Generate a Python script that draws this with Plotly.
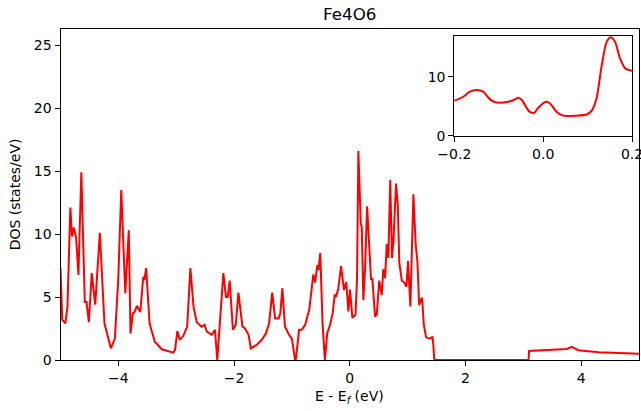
import plotly.graph_objects as go

# Total density of states of Fe4O6 (energies relative to the Fermi level)
energy = [-5.0, -4.97, -4.916, -4.88, -4.83, -4.80, -4.77, -4.73, -4.69, -4.64,
          -4.58, -4.55, -4.51, -4.46, -4.40, -4.32, -4.24, -4.13, -4.06, -4.0,
          -3.95, -3.88, -3.82, -3.79, -3.75, -3.72, -3.68, -3.62, -3.57, -3.55,
          -3.52, -3.46, -3.37, -3.25, -3.05, -3.02, -2.98, -2.94, -2.88, -2.81,
          -2.755, -2.70, -2.645, -2.56, -2.51, -2.47, -2.385, -2.33, -2.29, -2.24,
          -2.185, -2.14, -2.11, -2.075, -2.02, -1.97, -1.925, -1.855, -1.81, -1.75,
          -1.71, -1.61, -1.52, -1.45, -1.395, -1.34, -1.29, -1.23, -1.20, -1.165,
          -1.12, -1.05, -1.0, -0.945, -0.93, -0.876, -0.83, -0.77, -0.70, -0.63,
          -0.60, -0.56, -0.54, -0.51, -0.47, -0.43, -0.39, -0.34, -0.295, -0.26,
          -0.237, -0.197, -0.15, -0.10, -0.06, -0.024, 0.005, 0.045, 0.10, 0.126,
          0.149, 0.19, 0.207, 0.235, 0.265, 0.30, 0.334, 0.368, 0.39, 0.437,
          0.467, 0.51, 0.553, 0.58, 0.61, 0.64, 0.667, 0.70, 0.73, 0.755,
          0.80, 0.83, 0.857, 0.90, 0.944, 0.98, 1.008, 1.048, 1.10, 1.14,
          1.17, 1.20, 1.23, 1.25, 1.28, 1.32, 1.39, 1.43, 1.445, 1.46,
          1.48, 3.07, 3.09, 3.10, 3.5, 3.75, 3.84, 3.95, 4.3, 5.0]
dos = [7.3, 3.2, 2.9, 4.2, 12.1, 9.8, 10.5, 9.7, 6.75, 14.9,
       4.6, 4.6, 3.0, 6.9, 4.4, 10.1, 2.9, 0.93, 1.7, 6.6,
       13.5, 5.3, 10.3, 2.1, 3.7, 3.8, 4.3, 3.8, 6.6, 6.35,
       7.3, 2.9, 1.45, 0.85, 0.58, 0.8, 2.3, 1.6, 1.9, 2.65,
       7.3, 4.2, 3.0, 2.65, 2.8, 2.25, 2.0, 2.4, 0.0, 3.7,
       6.9, 5.0, 5.0, 6.3, 2.4, 2.8, 5.35, 2.65, 2.5, 2.0,
       0.93, 1.2, 1.6, 2.1, 2.9, 5.35, 3.3, 3.3, 3.7, 5.7,
       2.65, 2.0, 1.7, 0.0, 0.1, 2.4, 2.4, 2.8, 4.0, 6.8,
       6.15, 7.55, 7.15, 8.5, 2.9, 0.0, 2.1, 2.8, 3.7, 5.2,
       5.0, 5.7, 7.45, 5.55, 6.2, 3.85, 5.6, 3.35, 3.6, 6.5,
       16.6, 10.85, 10.6, 4.75, 7.3, 12.2, 8.6, 6.35, 6.5, 3.45,
       3.6, 6.3, 5.15, 7.2, 6.5, 9.2, 8.1, 14.3, 8.1, 9.4,
       14.0, 12.3, 7.7, 6.3, 6.15, 5.8, 7.85, 4.25, 13.15, 9.15,
       7.8, 4.35, 4.75, 4.95, 2.8, 1.8, 1.7, 1.85, 1.2, 0.1,
       0.0, 0.0, 0.0, 0.72, 0.78, 0.87, 1.05, 0.78, 0.62, 0.5]

# Fine-grid DOS close to the Fermi level (inset)
energy_zoom = [-0.2, -0.18, -0.165, -0.148, -0.135, -0.12, -0.108, -0.078, -0.066, -0.056,
               -0.048, -0.031, -0.02, -0.011, 0.006, 0.015, 0.030, 0.045, 0.075, 0.098,
               0.109, 0.12, 0.132, 0.143, 0.152, 0.162, 0.173, 0.185, 0.2]
dos_zoom = [5.93, 6.6, 7.46, 7.75, 7.46, 6.2, 5.66, 5.76, 6.05, 6.44,
            6.05, 4.07, 3.9, 4.75, 5.76, 5.5, 4.07, 3.4, 3.4, 3.6,
            4.2, 6.3, 12.0, 15.9, 16.7, 15.9, 13.1, 11.4, 11.0]

main_xticks = [-4, -2, 0, 2, 4]
main_yticks = [0, 5, 10, 15, 20, 25]
zoom_xticks = [-0.2, 0.0, 0.2]
zoom_yticks = [0, 10]

W, H = 641, 411
FONT = "DejaVu Sans"


def px_x(p):
    return p / W


def px_y(p):
    return (H - p) / H


fig = go.Figure()
fig.add_trace(go.Scatter(x=energy, y=dos, mode="lines",
                         line=dict(color="red", width=2),
                         xaxis="x", yaxis="y", showlegend=False))
fig.add_trace(go.Scatter(x=energy_zoom, y=dos_zoom, mode="lines",
                         line=dict(color="red", width=2, shape="spline", smoothing=0.8),
                         xaxis="x2", yaxis="y2", showlegend=False))

axis_style = dict(showline=True, linecolor="black", linewidth=1, mirror=True,
                  ticks="outside", ticklen=5, tickwidth=1, tickcolor="black",
                  showgrid=False, zeroline=False, automargin=False,
                  ticklabeloverflow="allow",
                  tickfont=dict(family=FONT, size=14, color="black"))

fig.update_layout(
    width=W, height=H,
    margin=dict(l=0, r=0, t=0, b=0, autoexpand=False),
    paper_bgcolor="white", plot_bgcolor="white",
    font=dict(family=FONT, color="black"),
    xaxis=dict(domain=[px_x(60.5), px_x(639)], range=[-5, 5],
               tickvals=main_xticks, anchor="y", **axis_style),
    yaxis=dict(domain=[px_y(360), px_y(28.7)], range=[0, 26.3],
               tickvals=main_yticks, anchor="x", **axis_style),
    xaxis2=dict(domain=[px_x(454.3), px_x(632)], range=[-0.2, 0.2],
                tickvals=zoom_xticks, tickformat=".1f", anchor="y2", **axis_style),
    yaxis2=dict(domain=[px_y(135.7), px_y(36)], range=[0, 16.9],
                tickvals=zoom_yticks, anchor="x2", **axis_style),
    title=dict(text="Fe4O6", x=px_x(349.75), xanchor="center",
               y=px_y(14), yanchor="middle", xref="paper", yref="paper",
               automargin=False,
               font=dict(family=FONT, size=16.7, color="black")),
    annotations=[
        dict(text="E - E<sub><i>f</i></sub> (eV)", x=px_x(349.75), y=px_y(397),
             xref="paper", yref="paper", xanchor="center", yanchor="middle",
             showarrow=False, font=dict(family=FONT, size=14, color="black")),
        dict(text="DOS (states/eV)", x=px_x(15), y=px_y(194.3), textangle=-90,
             xref="paper", yref="paper", xanchor="center", yanchor="middle",
             showarrow=False, font=dict(family=FONT, size=14, color="black")),
    ],
)

fig.write_html("out.html", config={"displayModeBar": False})
